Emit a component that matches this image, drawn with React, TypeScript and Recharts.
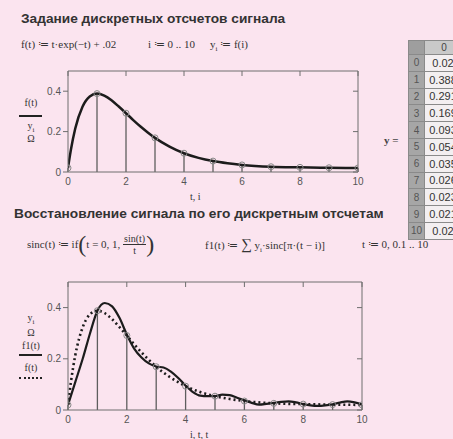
import React from "react";
import {
  ComposedChart,
  Line,
  ReferenceLine,
  Scatter,
  XAxis,
  YAxis
} from "recharts";

// samples y_i = f(i), i = 0..10
const sampleIdx = [0, 1, 2, 3, 4, 5, 6, 7, 8, 9, 10];
const sampleY = [0.02, 0.388, 0.291, 0.169, 0.093, 0.054, 0.035, 0.026, 0.023, 0.021, 0.02];

// f(t)
const fT = [0, 0.1, 0.25, 0.5, 0.75, 1, 1.25, 1.5, 1.75, 2, 2.25, 2.5, 2.75, 3, 3.5, 4, 4.5, 5, 5.5, 6, 7, 8, 9, 10];
const fY = [0.02, 0.11, 0.215, 0.323, 0.374, 0.388, 0.378, 0.355, 0.324, 0.291, 0.257, 0.225, 0.196, 0.169, 0.126, 0.093, 0.07, 0.054, 0.043, 0.035, 0.026, 0.023, 0.021, 0.02];

// f1(t), sinc reconstruction
const f1T = [0, 0.25, 0.5, 0.75, 1, 1.25, 1.5, 1.75, 2, 2.25, 2.5, 2.75, 3, 3.25, 3.5, 3.75, 4, 4.25, 4.5, 4.75, 5, 5.25, 5.5, 5.75, 6, 6.25, 6.5, 6.75, 7, 7.25, 7.5, 7.75, 8, 8.25, 8.5, 8.75, 9, 9.25, 9.5, 9.75, 10];
const f1Y = [0.02, 0.11, 0.2, 0.3, 0.388, 0.418, 0.405, 0.36, 0.295, 0.24, 0.205, 0.182, 0.17, 0.166, 0.15, 0.125, 0.095, 0.07, 0.056, 0.054, 0.054, 0.06, 0.058, 0.048, 0.038, 0.028, 0.021, 0.024, 0.028, 0.032, 0.034, 0.03, 0.023, 0.018, 0.016, 0.018, 0.022, 0.029, 0.034, 0.03, 0.022];

const xTicks = [0, 2, 4, 6, 8, 10];
const yTicks = [0, 0.2, 0.4];

const samples = sampleIdx.map((x, i) => ({ x, y: sampleY[i] }));
const fData = fT.map((x, i) => ({ x, y: fY[i] }));
const f1Data = f1T.map((x, i) => ({ x, y: f1Y[i] }));

const BG = "#fbe4ef";
const AXIS = "#6e6e6e";
const INK = "#1c1c1c";
const tickStyle = { fontSize: 10, fill: "#555", fontFamily: "Liberation Sans, Arial, sans-serif" };

const fmtY = (v: number) => (v === 0 ? "0" : String(v));
const fmtCell = (v: number) => v.toFixed(3).replace(/0+$/, "");

const ring = (p: any) => (
  <circle cx={p.cx} cy={p.cy} r={3} fill="none" stroke="#888" strokeWidth={1} />
);
const nothing = () => <g />;

function Plot({
  width,
  height,
  margin,
  dotted
}: {
  width: number;
  height: number;
  margin: { top: number; right: number; bottom: number; left: number };
  dotted: boolean;
}) {
  return (
    <ComposedChart width={width} height={height} margin={margin}>
      <XAxis
        dataKey="x"
        type="number"
        domain={[0, 10]}
        ticks={xTicks}
        allowDataOverflow
        stroke={AXIS}
        tickLine={false}
        tickSize={4}
        tick={tickStyle}
        height={24}
      />
      <XAxis
        xAxisId="top"
        dataKey="x"
        orientation="top"
        type="number"
        domain={[0, 10]}
        ticks={xTicks}
        mirror
        stroke={AXIS}
        tickSize={5}
        tickFormatter={() => ""}
        height={1}
      />
      <YAxis
        dataKey="y"
        type="number"
        domain={[0, 0.5]}
        ticks={yTicks}
        allowDataOverflow
        stroke={AXIS}
        tickSize={5}
        tick={tickStyle}
        tickFormatter={fmtY}
        width={30}
      />
      <YAxis
        yAxisId="right"
        dataKey="y"
        orientation="right"
        type="number"
        domain={[0, 0.5]}
        ticks={yTicks}
        mirror
        stroke={AXIS}
        tickSize={5}
        tickFormatter={() => ""}
        width={1}
      />
      {samples.map((s) => (
        <ReferenceLine
          key={s.x}
          segment={[{ x: s.x, y: 0 }, { x: s.x, y: s.y }]}
          stroke="#5e5e5e"
          strokeWidth={1.3}
        />
      ))}
      {dotted ? (
        <>
          <Line data={fData} dataKey="y" type="monotone" dot={false} stroke={INK} strokeWidth={2.6} strokeDasharray="2 3" isAnimationActive={false} />
          <Line data={f1Data} dataKey="y" type="monotone" dot={false} stroke={INK} strokeWidth={2.2} isAnimationActive={false} />
        </>
      ) : (
        <Line data={fData} dataKey="y" type="monotone" dot={false} stroke={INK} strokeWidth={2.5} isAnimationActive={false} />
      )}
      <Scatter data={samples} dataKey="y" shape={ring} isAnimationActive={false} />
      <Scatter xAxisId="top" yAxisId="right" data={samples} dataKey="y" shape={nothing} isAnimationActive={false} />
    </ComposedChart>
  );
}

const serif = "Liberation Serif, 'Times New Roman', serif";
const sans = "Liberation Sans, Arial, sans-serif";

const abs = (left: number, top: number, extra: React.CSSProperties = {}): React.CSSProperties => ({
  position: "absolute",
  left,
  top,
  whiteSpace: "nowrap",
  ...extra
});

const sub = (s: string) => (
  <span style={{ fontSize: 7, verticalAlign: "sub", lineHeight: 0 }}>{s}</span>
);

const legendText = (top: number, content: React.ReactNode) => (
  <div style={abs(18, top, { fontFamily: serif, fontSize: 10, color: "#333", width: 26, textAlign: "center", lineHeight: "12px" })}>
    {content}
  </div>
);
const legendLine = (top: number, style: string) => (
  <div style={abs(19, top, { width: 23, borderTop: style })} />
);

function Table() {
  const rowH = 16.8;
  const cell: React.CSSProperties = {
    position: "absolute",
    boxSizing: "border-box",
    border: "1px solid #8a8a8a",
    fontFamily: sans,
    fontSize: 11,
    color: "#333",
    display: "flex",
    alignItems: "center",
    justifyContent: "center"
  };
  return (
    <div style={abs(408, 40)}>
      <div style={{ ...cell, left: 0, top: 0, width: 17, height: 15, background: "#9e9e9e" }} />
      <div style={{ ...cell, left: 16, top: 0, width: 40, height: 15, background: "#c9c9c9", color: "#444", fontSize: 10 }}>0</div>
      {sampleY.map((v, i) => (
        <React.Fragment key={i}>
          <div style={{ ...cell, left: 0, top: 14 + i * rowH, width: 17, height: rowH + 1, background: "#a6a6a6", color: "#555", fontSize: 10 }}>
            {sampleIdx[i]}
          </div>
          <div style={{ ...cell, left: 16, top: 14 + i * rowH, width: 38, height: rowH + 1, background: "#f3eff1" }}>
            {fmtCell(v)}
          </div>
        </React.Fragment>
      ))}
    </div>
  );
}

export default function App() {
  return (
    <div style={{ position: "absolute", left: 0, top: 0, width: 453, height: 439, overflow: "hidden", background: BG, color: "#333" }}>
      <div style={abs(21, 11, { fontFamily: sans, fontWeight: "bold", fontSize: 13.7, color: "#333" })}>
        Задание дискретных отсчетов сигнала
      </div>
      <div style={abs(21, 38, { fontFamily: serif, fontSize: 11 })}>f(t) ≔ t·exp(−t) + .02</div>
      <div style={abs(148, 38, { fontFamily: serif, fontSize: 11 })}>i ≔ 0 .. 10</div>
      <div style={abs(210, 38, { fontFamily: serif, fontSize: 11 })}>
        y{sub("i")} ≔ f(i)
      </div>

      <div style={abs(0, 60)}>
        <Plot width={380} height={136} margin={{ top: 11, right: 22, bottom: 0, left: 38 }} dotted={false} />
      </div>
      {legendText(97, "f(t)")}
      {legendLine(115, "2px solid #222")}
      {legendText(120, <>y{sub("i")}</>)}
      {legendText(133, "Ω")}
      <div style={abs(190, 191, { fontFamily: serif, fontSize: 10 })}>t, i</div>

      <Table />
      <div style={abs(384, 134, { fontFamily: serif, fontSize: 11, fontWeight: "bold", color: "#444" })}>y =</div>

      <div style={abs(14, 206, { fontFamily: sans, fontWeight: "bold", fontSize: 13.7, color: "#333" })}>
        Восстановление сигнала по его дискретным отсчетам
      </div>
      <div style={abs(27, 232, { fontFamily: serif, fontSize: 11, display: "flex", alignItems: "center" })}>
        <span>sinc(t) ≔ if</span>
        <span style={{ fontSize: 24, lineHeight: "24px" }}>(</span>
        <span>t = 0, 1,&nbsp;</span>
        <span style={{ display: "inline-flex", flexDirection: "column", alignItems: "center", fontSize: 10, lineHeight: "11px" }}>
          <span style={{ borderBottom: "1px solid #333", padding: "0 1px" }}>sin(t)</span>
          <span>t</span>
        </span>
        <span style={{ fontSize: 24, lineHeight: "24px" }}>)</span>
      </div>
      <div style={abs(205, 236, { fontFamily: serif, fontSize: 11 })}>
        f1(t) ≔ <span style={{ fontSize: 15 }}>∑</span> y{sub("i")}·sinc[π·(t − i)]
      </div>
      <div style={abs(362, 238, { fontFamily: serif, fontSize: 11 })}>t ≔ 0, 0.1 .. 10</div>

      <div style={abs(0, 270)}>
        <Plot width={384} height={164} margin={{ top: 12, right: 22, bottom: 0, left: 38 }} dotted />
      </div>
      {legendText(312, <>y{sub("i")}</>)}
      {legendText(327, "Ω")}
      {legendText(340, "f1(t)")}
      {legendLine(354, "2px solid #222")}
      {legendText(362, "f(t)")}
      {legendLine(377, "2px dotted #222")}
      <div style={abs(190, 429, { fontFamily: serif, fontSize: 10 })}>i, t, t</div>
    </div>
  );
}
